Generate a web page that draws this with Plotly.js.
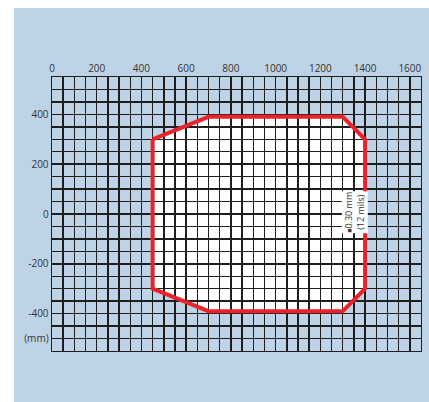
<!DOCTYPE html>
<html>
<head>
<meta charset="utf-8">
<script src="https://cdn.plot.ly/plotly-3.0.1.min.js"></script>
<style>
html,body{margin:0;padding:0;background:#fff;width:429px;height:402px;overflow:hidden;}
#chart{position:absolute;left:14px;top:8px;width:415px;height:394px;}
</style>
</head>
<body>
<div id="chart"></div>
<script>
// Field of view outline (mm)
var outlineX = [450, 700, 1300, 1400, 1400, 1300, 700, 450, 450];
var outlineY = [300, 390, 390, 300, -300, -390, -390, -300, 300];

var xTickVals = [0, 200, 400, 600, 800, 1000, 1200, 1400, 1600];
var xTickText = ['0', '200', '400', '600', '800', '1000', '1200', '1400', '1600'];
var yTickVals = [-500, -400, -200, 0, 200, 400];
var yTickText = ['(mm)', '-400', '-200', '0', '200', '400'];

var noteX = 1355;
var noteY = 5;
var noteText = '<span style="font-size:7px">■</span>0.30 mm<br>(12 mils)';

var xRange = [0, 1650];
var yRange = [-550, 550];
var gridStep = 50;

var blue = '#bfd3e6';
var gridC = '#1e1e1e';
var red = '#e8232a';

// grid every 50 mm, labels only where the label arrays say
function gridTicks(range, vals, texts) {
  var tv = [], tt = [];
  for (var v = range[0]; v <= range[1]; v += gridStep) {
    tv.push(v);
    var k = vals.indexOf(v);
    tt.push(k >= 0 ? texts[k] : '');
  }
  return {vals: tv, text: tt};
}
var xg = gridTicks(xRange, xTickVals, xTickText);
var yg = gridTicks(yRange, yTickVals, yTickText);

var path = 'M ' + outlineX.map(function (x, i) { return x + ',' + outlineY[i]; }).join(' L ') + ' Z';

var traces = [{
  x: outlineX,
  y: outlineY,
  mode: 'lines',
  type: 'scatter',
  line: {color: red, width: 4},
  hoverinfo: 'skip',
  showlegend: false
}];

var layout = {
  width: 415,
  height: 394,
  margin: {l: 38, r: 8, t: 69, b: 51},
  paper_bgcolor: blue,
  plot_bgcolor: blue,
  font: {family: '"Open Sans", "Noto Sans", sans-serif', size: 10, color: '#333333'},
  showlegend: false,
  xaxis: {
    range: xRange,
    side: 'top',
    tickmode: 'array',
    tickvals: xg.vals,
    ticktext: xg.text,
    ticks: '',
    showgrid: true,
    gridcolor: gridC,
    gridwidth: 1.4,
    zeroline: false,
    showline: true,
    mirror: true,
    linecolor: gridC,
    linewidth: 1.4,
    fixedrange: true
  },
  yaxis: {
    range: yRange,
    tickmode: 'array',
    tickvals: yg.vals,
    ticktext: yg.text,
    ticks: '',
    showgrid: true,
    gridcolor: gridC,
    gridwidth: 1.4,
    zeroline: false,
    showline: true,
    mirror: true,
    linecolor: gridC,
    linewidth: 1.4,
    fixedrange: true
  },
  shapes: [{
    type: 'path',
    path: path,
    xref: 'x',
    yref: 'y',
    layer: 'below',
    fillcolor: '#ffffff',
    line: {width: 0}
  }],
  annotations: [{
    x: noteX,
    y: noteY,
    xref: 'x',
    yref: 'y',
    text: noteText,
    showarrow: false,
    textangle: -90,
    bgcolor: '#ffffff',
    borderpad: 0,
    font: {size: 9, color: '#333333'}
  }]
};

Plotly.newPlot('chart', traces, layout, {displayModeBar: false, staticPlot: true});
</script>
</body>
</html>
